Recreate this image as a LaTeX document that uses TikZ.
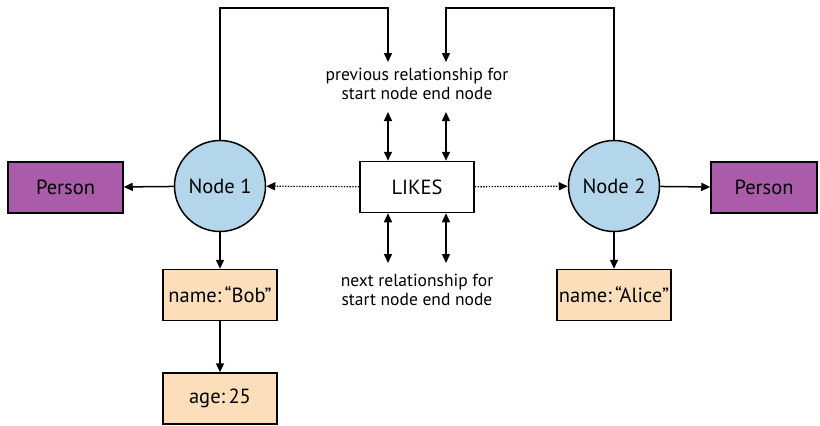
\documentclass[tikz,border=0pt]{standalone}
\usepackage{fontspec}
\setmainfont{PT Sans}
\usetikzlibrary{arrows.meta}

\definecolor{personpurple}{RGB}{170,92,170}
\definecolor{nodeblue}{RGB}{179,214,235}
\definecolor{propbeige}{RGB}{253,222,186}

\begin{document}
\begin{tikzpicture}[x=1pt, y=-1pt, font=\fontsize{20.5}{24}\selectfont,
  line width=1.5pt, >={Triangle[length=9pt,width=8pt]},
  graphnode/.style={circle, draw, fill=nodeblue, minimum size=91pt, inner sep=0pt},
  typebox/.style={draw, fill=personpurple, minimum height=51pt, inner sep=0pt},
  propbox/.style={draw, fill=propbeige, minimum width=114pt, minimum height=51pt, inner sep=0pt},
  relbox/.style={draw, fill=white, minimum width=114pt, minimum height=51pt},
  note/.style={align=center, font=\fontsize{17.5}{19}\selectfont},
  dots/.style={line width=1.2pt, dash pattern=on 1.4pt off 1.4pt}]
  \useasboundingbox (0,0) rectangle (820,426);

  % Nodes
  \node[graphnode] (n1) at (220,186) {Node 1};
  \node[graphnode] (n2) at (614,186) {Node 2};
  \node[relbox] (likes) at (417,187) {LIKES};
  \node[typebox, minimum width=115pt] (p1) at (65.5,187.5) {Person};
  \node[typebox, minimum width=106pt] (p2) at (764,187.5) {Person};

  % Properties
  \node[propbox] (bob) at (220,295) {name:\,``Bob''};
  \node[propbox] (age) at (220,398.5) {age:\,25};
  \node[propbox] (alice) at (614,295) {name:\,``Alice''};

  % Relationship pointers
  \node[note] (prevtxt) at (417,84) {previous relationship for\\start node end node};
  \node[note] (nexttxt) at (417,290) {next relationship for\\start node end node};
  \coordinate (top) at (0,8);
  \coordinate (prevL) at (388,62);
  \coordinate (prevR) at (446,62);
  \coordinate (upL) at (388,112);
  \coordinate (upR) at (446,112);
  \coordinate (downL) at (388,263);
  \coordinate (downR) at (446,263);

  % Connectors
  \draw[->] (n1) -- (p1);
  \draw[->] (n2) -- (p2);
  \draw[->] (n1) -- (bob);
  \draw[->] (bob) -- (age);
  \draw[->] (n2) -- (alice);
  \draw[->, dots] (likes) -- (n1);
  \draw[->, dots] (likes) -- (n2);
  \draw[->] (n1.north) -- (n1.north |- top) -| (prevL);
  \draw[->] (n2.north) -- (n2.north |- top) -| (prevR);
  \draw[<->] (upL) -- (likes.north -| upL);
  \draw[<->] (upR) -- (likes.north -| upR);
  \draw[<->] (likes.south -| downL) -- (downL);
  \draw[<->] (likes.south -| downR) -- (downR);

\end{tikzpicture}
\end{document}
